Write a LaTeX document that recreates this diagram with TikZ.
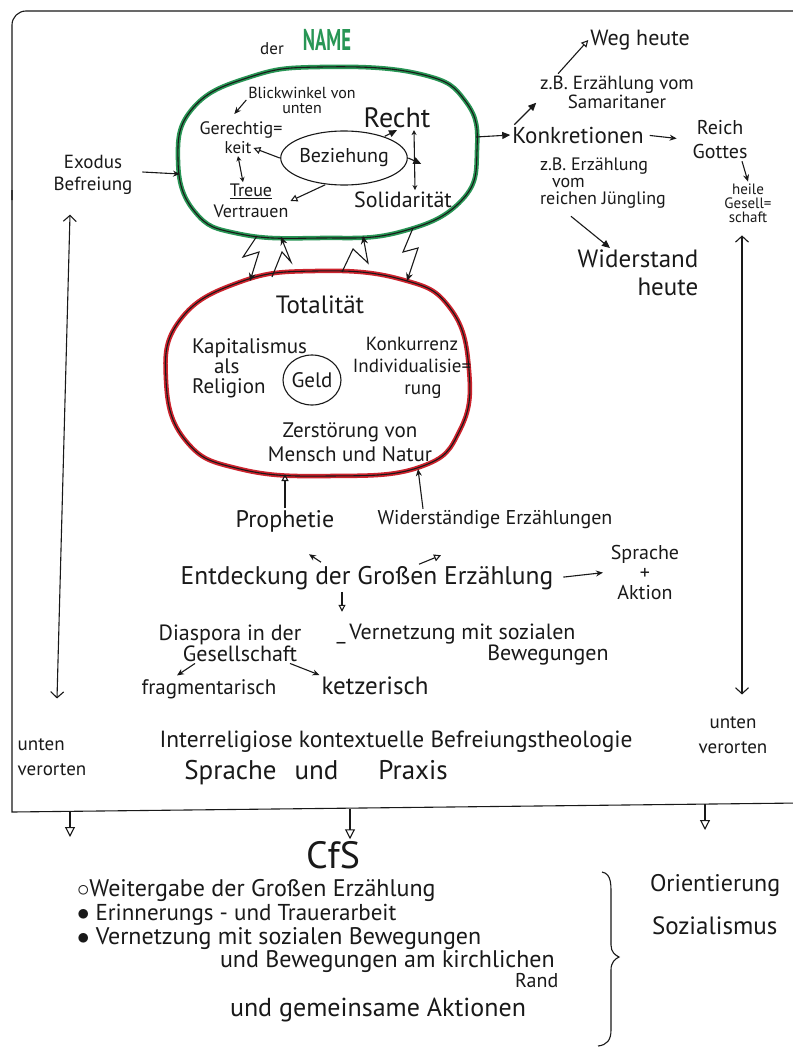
\documentclass[tikz,border=0pt]{standalone}
\usepackage{fontspec}
\setmainfont{PT Sans}
\usetikzlibrary{arrows.meta,shapes.geometric}
\definecolor{grn}{RGB}{40,150,85}
\definecolor{rdd}{RGB}{205,35,45}
\definecolor{ink}{RGB}{25,25,25}
\begin{document}
\begin{tikzpicture}[x=1pt,y=-1pt,
  fs/.style 2 args={font=\fontsize{#1}{#2}\selectfont},
  t/.style={inner sep=0pt,outer sep=2pt,align=center,text=ink},
  ln/.style={draw=ink,line width=1.1pt},
  ah/.style={ln,-{Triangle[open,length=7pt,width=7pt]}},
  ahb/.style={ln,-{Triangle[open,length=10pt,width=10pt]}},
  af/.style={ln,-{Triangle[length=8pt,width=7pt]}},
  sa/.style={ln,-{Stealth[length=7pt,width=6pt]}},
  ah2/.style={ln,{Stealth[length=5pt,width=5pt]}-{Stealth[length=5pt,width=5pt]}},
  la/.style={ln,{Straight Barb[length=6pt,width=13pt]}-{Straight Barb[length=6pt,width=13pt]}},
  zz/.style={ln,-{Stealth[length=8pt,width=7pt]},line join=miter},
]
\useasboundingbox (0,0) rectangle (792,1054);
\fill[white] (0,0) rectangle (792,1054);

% frame
\draw[ln,rounded corners=14pt] (800,11) -- (12,11) -- (12,200);
\draw[ln] (12,190) -- (12,812) -- (800,803);
\coordinate (fb1) at (70,811);
\coordinate (fb2) at (350,809);
\coordinate (fb3) at (705,804);

% title
\node[t,fs={17}{17}] (der) at (272,49) {der};
\node[t,text=grn,fs={30}{30}] (name) at (327,40) {\scalebox{0.62}[1]{\bfseries NAME}};

% green shape
\def\greenpath{plot[smooth cycle,tension=0.75] coordinates {(320,67) (420,74) (466,102) (477,150) (462,200) (400,232) (320,238) (240,234) (195,212) (178,160) (193,108) (250,77)}}
\draw[grn,line width=4.5pt] \greenpath;
\draw[ink,line width=1.1pt] \greenpath;
\coordinate (g1) at (257,236);
\coordinate (g2) at (281,237);
\coordinate (g3) at (363,236);
\coordinate (g4) at (413,228);
\coordinate (gW) at (180,174);
\coordinate (gE) at (476,137);

% red shape
\def\redpath{plot[smooth cycle,tension=0.75] coordinates {(315,271) (400,279) (450,308) (469,370) (460,430) (420,467) (330,476) (240,469) (186,441) (166,380) (180,320) (240,282)}}
\draw[rdd,line width=4.5pt] \redpath;
\draw[ink,line width=1.1pt] \redpath;
\coordinate (r1) at (250,281);
\coordinate (r2) at (272,277);
\coordinate (r3) at (342,272);
\coordinate (r4) at (407,281);
\coordinate (rB1) at (285,474);
\coordinate (rB2) at (418,469);

% lightning connectors
\draw[zz] (g1) -- (243,257) -- (259,252) -- (r1);
\draw[zz] (r2) -- (282,252) -- (291,262) -- (g2);
\draw[zz] (r3) -- (353,249) -- (368,263) -- (g3);
\draw[zz] (g4) -- (403,252) -- (418,248) -- (r4);

% inside green
\node[t,fs={16}{15}] (blick) at (302,100) {Blickwinkel von\\unten};
\node[t,fs={18}{18}] (gk1) at (241,130) {Gerechtig=};
\node[t,fs={17}{17}] (gk2) at (238,148) {keit};
\node[t,fs={18}{21}] (treue) at (251,201) {\underline{Treue}\\Vertrauen};
\node[draw=ink,line width=1.1pt,ellipse,minimum width=104pt,minimum height=54pt,inner sep=0pt,outer sep=1pt,text=ink,fs={20}{20}] (bez) at (344,158) {Beziehung};
\node[t,fs={28}{28}] (recht) at (397,118) {Recht};
\node[t,fs={22}{22}] (sol) at (403,200) {Solidarität};

\draw[sa] (blick.west) -- ++(-12,14);
\draw[ah] (bez.west) -- (gk2.east);
\draw[ah2] (gk2.south) -- ([xshift=-8pt]treue.north);
\draw[ah] (bez.-125) -- (treue.east);
\draw[af] (bez.28) -- (recht.south);
\draw[af] (bez.east) -- ++(13,6);
\draw[ah2] ([xshift=17pt]recht.south) -- ([xshift=12pt]sol.north);

% left side
\node[t,fs={19}{22}] (exo) at (93,175) {Exodus\\Befreiung};
\draw[sa] ([xshift=8pt,yshift=3pt]exo.east) -- (gW);

% right of green
\node[t,fs={23}{23}] (konk) at (578,135) {Konkretionen};
\draw[af] (gE) -- (konk.west);
\node[t,fs={20}{24}] (reich) at (720,140) {Reich\\Gottes};
\draw[sa,shorten <=4pt,shorten >=14pt] (konk.east) -- (reich.west);
\node[t,fs={15}{14}] (heile) at (748,203) {heile\\Gesell=\\schaft};
\draw[sa] ([xshift=22pt]reich.south) -- (heile.north);

\node[t,fs={19}{19}] (sam) at (617,92) {z.B. Erzählung vom\\Samaritaner};
\draw[af] ([xshift=4pt]konk.north west) -- ++(22,-22);
\node[t,fs={22}{22}] (weg) at (640,40) {Weg heute};
\draw[ah] ([xshift=20pt]sam.north west) -- (weg.west);

\node[t,fs={18}{17},align=left,anchor=west] (jue) at (538,183) {z.B. Erzählung\\\hspace{12pt}vom\\reichen Jüngling};
\node[t,fs={25}{28},align=right] (wid) at (638,273) {Widerstand\\heute};
\draw[af] ([xshift=-32pt,yshift=-6pt]jue.south) -- ([xshift=-28pt]wid.north);

% long vertical arrows
\node[t,fs={19}{25},align=left] (ul) at (52,757) {unten\\verorten};
\node[t,fs={19}{25}] (ur) at (733,735) {unten\\verorten};
\draw[la] ([xshift=-23pt,yshift=-18pt]exo.south) -- ([xshift=5pt,yshift=38pt]ul.north);
\draw[la] ([xshift=-6pt,yshift=-11pt]heile.south) -- ([xshift=9pt,yshift=20pt]ur.north);

% inside red
\node[t,fs={25}{25}] (tot) at (320,305) {Totalität};
\node[t,fs={21}{20},align=left,anchor=west] (kap) at (190,368) {Kapitalismus\\\hspace{22pt}als\\Religion};
\node[draw=ink,line width=1.1pt,ellipse,minimum width=58pt,minimum height=50pt,inner sep=0pt,text=ink,fs={21}{21}] (geld) at (312,380) {Geld};
\node[t,fs={19}{22}] (konc) at (412,368) {Konkurrenz\\Individualisie=\\\hspace{22pt}rung};
\node[t,fs={21}{24}] (zer) at (350,442) {Zerstörung von\hspace{26pt}\\Mensch und Natur};

% below red
\node[t,fs={24}{24}] (pro) at (285,521) {Prophetie};
\draw[ah] (pro.north) -- (rB1);
\node[t,fs={20}{20}] (wst) at (495,520) {Widerständige Erzählungen};
\draw[sa] ([xshift=-72pt]wst.north) -- (rB2);

\node[t,fs={25.5}{25.5}] (ent) at (367,578) {Entdeckung der Großen Erzählung};
\draw[sa] ([xshift=-46pt,yshift=2pt]ent.north) -- ++(-12,-8);
\draw[ah] ([xshift=52pt]ent.north) -- ++(22,-9);
\node[t,fs={20}{20}] (spr) at (645,572) {Sprache\\+\\Aktion};
\draw[sa,shorten <=8pt,shorten >=6pt] (ent.east) -- (spr.west);
\draw[ah] ([xshift=-25pt]ent.south) -- ++(0,20);

\node[t,fs={22}{20}] (dia) at (230,643) {Diaspora in der\\\hspace{20pt}Gesellschaft};
\node[t,fs={22}{22}] (vern) at (456,634) {\_\hspace{4pt}Vernetzung mit sozialen};
\node[t,fs={22}{22}] (bew) at (548,655) {Bewegungen};
\node[t,fs={21}{21}] (frag) at (209,689) {fragmentarisch};
\node[t,fs={25}{25}] (ketz) at (375,686) {ketzerisch};
\draw[sa] ([xshift=-35pt]dia.south) -- ++(-18,12);
\draw[sa] ([xshift=60pt]dia.south) -- (ketz.north west);

\node[t,fs={23.4}{23.4}] (inter) at (396,742) {Interreligiose kontextuelle Befreiungstheologie};
\node[t,fs={27}{27}] (spx) at (316,773) {Sprache\hspace{18pt}und\hspace{40pt}Praxis};

% bottom
\node[t,fs={38}{38}] (cfs) at (333,855) {CfS};
\draw[ahb] (fb1) -- ++(0,26);
\draw[ahb] (fb2) -- ([xshift=17pt]cfs.north);
\draw[ahb] (fb3) -- ++(0,26);

\node[t,anchor=base west,fs={24}{24}] (l1) at (75,896) {$\circ$Weitergabe der Großen Erzählung};
\node[t,anchor=base west,fs={23}{23}] (l2) at (75,920) {$\bullet$ Erinnerungs - und Trauerarbeit};
\node[t,anchor=base west,fs={24}{24}] (l3) at (75,944) {$\bullet$ Vernetzung mit sozialen Bewegungen};
\node[t,anchor=base west,fs={24}{24}] (l4) at (218,967) {und Bewegungen am kirchlichen};
\node[t,anchor=base west,fs={20}{20}] (l5) at (513,987) {Rand};
\node[t,anchor=base west,fs={26}{26}] (l6) at (228,1016) {und gemeinsame Aktionen};

\draw[ln] (602,872) .. controls (612,874) and (611,885) .. (611,900) -- (611,945)
  .. controls (611,952) and (615,955) .. (619,957)
  .. controls (615,959) and (611,962) .. (611,970) -- (611,1030)
  .. controls (611,1040) and (607,1045) .. (598,1046);

\node[t,anchor=west,fs={24}{24}] (ori) at (648,885) {Orientierung};
\node[t,anchor=west,fs={25}{25}] (soz) at (650,926) {Sozialismus};
\end{tikzpicture}
\end{document}
